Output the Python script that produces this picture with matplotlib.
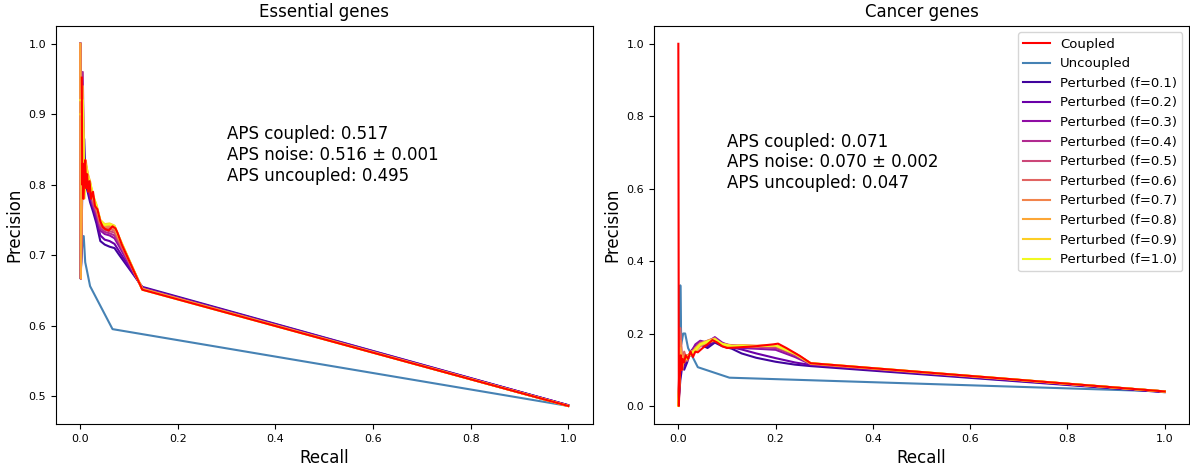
import numpy as np
import matplotlib
matplotlib.use('Agg')
import matplotlib.pyplot as plt

fractions = [0.1, 0.2, 0.3, 0.4, 0.5, 0.6, 0.7, 0.8, 0.9, 1.0]

# ---- Essential genes ----
ess_coupled_x = [0.003, 0.004, 0.005, 0.006, 0.008, 0.010, 0.012, 0.014, 0.016, 0.019, 0.022, 0.026,
                 0.030, 0.035, 0.041, 0.046, 0.051, 0.058, 0.066, 0.072, 0.076, 0.085, 0.127, 1.000]
ess_coupled_y = [0.952, 0.800, 0.830, 0.780, 0.810, 0.835, 0.795, 0.815, 0.790, 0.805, 0.780, 0.790,
                 0.770, 0.765, 0.748, 0.740, 0.737, 0.735, 0.741, 0.738, 0.732, 0.715, 0.651, 0.486]
ess_uncoupled_x = [0.000, 0.000, 0.005, 0.007, 0.010, 0.013, 0.020, 0.066, 1.000]
ess_uncoupled_y = [1.000, 0.667, 0.727, 0.727, 0.690, 0.680, 0.656, 0.595, 0.486]

ess_pert_x = [0.000, 0.001, 0.005, 0.008, 0.011, 0.015, 0.020, 0.026, 0.033, 0.041, 0.050, 0.060,
              0.070, 0.080, 0.127, 1.000]
ess_pert_y = {
    0.1: [1.0, 0.667, 0.830, 0.865, 0.800, 0.790, 0.775, 0.762, 0.745, 0.720, 0.715, 0.712, 0.710, 0.700, 0.655, 0.487],
    0.2: [1.0, 0.667, 0.850, 0.830, 0.810, 0.795, 0.780, 0.768, 0.750, 0.728, 0.722, 0.720, 0.716, 0.705, 0.654, 0.487],
    0.3: [1.0, 0.667, 0.880, 0.820, 0.815, 0.800, 0.785, 0.770, 0.755, 0.735, 0.730, 0.728, 0.724, 0.712, 0.653, 0.487],
    0.4: [1.0, 0.667, 0.960, 0.810, 0.820, 0.805, 0.790, 0.772, 0.760, 0.738, 0.733, 0.731, 0.728, 0.716, 0.653, 0.486],
    0.5: [1.0, 0.667, 0.930, 0.815, 0.825, 0.808, 0.795, 0.775, 0.762, 0.742, 0.736, 0.734, 0.732, 0.718, 0.652, 0.486],
    0.6: [1.0, 0.667, 0.900, 0.805, 0.830, 0.810, 0.800, 0.778, 0.765, 0.745, 0.738, 0.737, 0.735, 0.720, 0.652, 0.486],
    0.7: [1.0, 0.667, 0.910, 0.800, 0.825, 0.812, 0.802, 0.780, 0.768, 0.746, 0.740, 0.740, 0.738, 0.722, 0.652, 0.486],
    0.8: [1.0, 0.667, 0.940, 0.790, 0.835, 0.815, 0.805, 0.782, 0.770, 0.748, 0.742, 0.743, 0.741, 0.724, 0.652, 0.486],
    0.9: [0.9, 0.900, 0.900, 0.780, 0.830, 0.818, 0.800, 0.784, 0.772, 0.750, 0.744, 0.745, 0.742, 0.725, 0.651, 0.486],
    1.0: [0.92, 0.920, 0.920, 0.785, 0.828, 0.812, 0.803, 0.786, 0.770, 0.749, 0.743, 0.744, 0.741, 0.724, 0.651, 0.486],
}
ess_text = 'APS coupled: 0.517\nAPS noise: 0.516 ± 0.001\nAPS uncoupled: 0.495'

# ---- Cancer genes ----
can_coupled_x = [0.000, 0.001, 0.003, 0.005, 0.007, 0.009, 0.012, 0.015, 0.020, 0.025, 0.030, 0.035, 0.040,
                 0.050, 0.060, 0.070, 0.080, 0.090, 0.100, 0.127, 0.160, 0.195, 0.205, 0.222, 0.250, 0.272, 1.000]
can_coupled_y = [1.000, 0.000, 0.080, 0.140, 0.100, 0.130, 0.120, 0.140, 0.130, 0.150, 0.135, 0.150, 0.148,
                 0.160, 0.170, 0.182, 0.175, 0.165, 0.160, 0.162, 0.165, 0.170, 0.172, 0.160, 0.138, 0.118, 0.040]
can_uncoupled_x = [0.003, 0.004, 0.006, 0.010, 0.014, 0.020, 0.040, 0.105, 1.000]
can_uncoupled_y = [0.140, 0.333, 0.170, 0.200, 0.200, 0.160, 0.107, 0.078, 0.040]

can_pert_x = [0.000, 0.004, 0.008, 0.012, 0.018, 0.025, 0.035, 0.045, 0.060, 0.075, 0.090, 0.110,
              0.130, 0.160, 0.200, 0.240, 0.272, 1.000]
can_pert_y = {
    0.1: [0.000, 0.070, 0.110, 0.100, 0.120, 0.150, 0.165, 0.170, 0.160, 0.175, 0.165, 0.158, 0.145, 0.133, 0.122, 0.114, 0.110, 0.038],
    0.2: [0.000, 0.090, 0.120, 0.110, 0.140, 0.140, 0.160, 0.175, 0.165, 0.180, 0.170, 0.162, 0.156, 0.145, 0.132, 0.120, 0.113, 0.039],
    0.3: [0.000, 0.100, 0.130, 0.120, 0.130, 0.145, 0.170, 0.180, 0.175, 0.190, 0.175, 0.164, 0.160, 0.158, 0.155, 0.135, 0.115, 0.039],
    0.4: [0.000, 0.150, 0.100, 0.140, 0.125, 0.150, 0.155, 0.170, 0.180, 0.188, 0.170, 0.165, 0.163, 0.162, 0.160, 0.140, 0.116, 0.040],
    0.5: [0.000, 0.200, 0.110, 0.130, 0.135, 0.140, 0.160, 0.175, 0.178, 0.185, 0.172, 0.167, 0.165, 0.163, 0.163, 0.142, 0.116, 0.040],
    0.6: [0.000, 0.215, 0.120, 0.150, 0.125, 0.145, 0.150, 0.165, 0.175, 0.183, 0.170, 0.168, 0.166, 0.165, 0.165, 0.143, 0.117, 0.040],
    0.7: [0.000, 0.180, 0.100, 0.140, 0.130, 0.150, 0.155, 0.170, 0.176, 0.180, 0.172, 0.165, 0.168, 0.166, 0.166, 0.144, 0.117, 0.040],
    0.8: [0.000, 0.160, 0.130, 0.120, 0.140, 0.140, 0.160, 0.172, 0.180, 0.186, 0.168, 0.163, 0.167, 0.166, 0.167, 0.145, 0.118, 0.040],
    0.9: [0.000, 0.120, 0.110, 0.130, 0.130, 0.145, 0.150, 0.168, 0.175, 0.182, 0.170, 0.166, 0.166, 0.165, 0.168, 0.145, 0.118, 0.040],
    1.0: [0.000, 0.140, 0.120, 0.125, 0.135, 0.142, 0.155, 0.170, 0.178, 0.184, 0.171, 0.165, 0.166, 0.165, 0.167, 0.144, 0.118, 0.040],
}
can_text = 'APS coupled: 0.071\nAPS noise: 0.070 ± 0.002\nAPS uncoupled: 0.047'

cmap = plt.get_cmap('plasma')

fig = plt.figure(figsize=(11.9, 4.67), dpi=100)
ax1 = fig.add_axes([0.047, 0.092, 0.451, 0.853])
ax2 = fig.add_axes([0.5496, 0.092, 0.4496, 0.853])

panels = [
    (ax1, 'Essential genes', ess_coupled_x, ess_coupled_y, ess_uncoupled_x, ess_uncoupled_y,
     ess_pert_x, ess_pert_y, ess_text, (0.30, 0.80)),
    (ax2, 'Cancer genes', can_coupled_x, can_coupled_y, can_uncoupled_x, can_uncoupled_y,
     can_pert_x, can_pert_y, can_text, (0.10, 0.59)),
]

for ax, title, cx, cy, ux, uy, px, py, txt, tpos in panels:
    lu, = ax.plot(ux, uy, color='steelblue', lw=1.5, label='Uncoupled')
    pert_lines = []
    for f in fractions:
        l, = ax.plot(px, py[f], color=cmap(f), lw=1.5, label='Perturbed (f=%.1f)' % f)
        pert_lines.append(l)
    lc, = ax.plot(cx, cy, color='red', lw=1.5, label='Coupled')

    ax.set_title(title, fontsize=12)
    ax.set_xlabel('Recall', fontsize=12)
    ax.set_ylabel('Precision', fontsize=12)
    ax.tick_params(labelsize=8)
    ax.text(tpos[0], tpos[1], txt, fontsize=12, va='bottom', ha='left')

ax2.set_yticks([0.0, 0.2, 0.4, 0.6, 0.8, 1.0])
ax2.legend(handles=[lc, lu] + pert_lines, loc='upper right', fontsize=9.5)

fig.savefig('out.png', dpi=100)
